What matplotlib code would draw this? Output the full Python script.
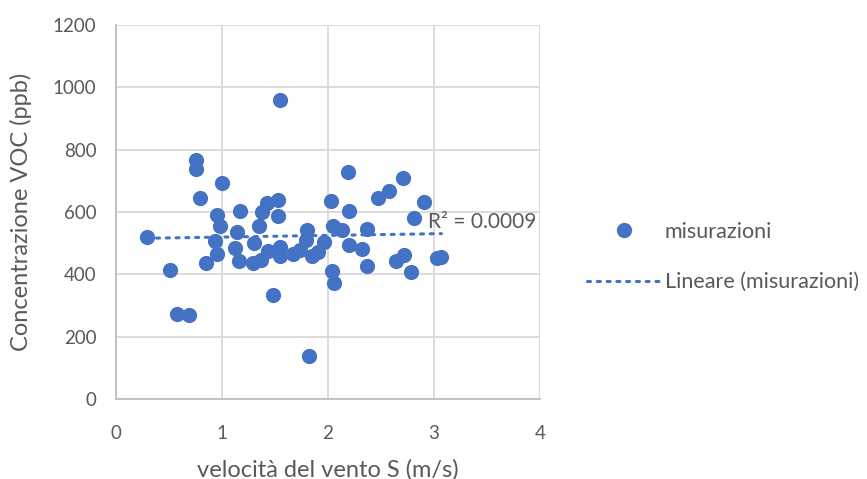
import numpy as np
import matplotlib.pyplot as plt
from matplotlib.lines import Line2D

# ===============================
# data
# ===============================
velocita = [0.29, 0.51, 0.58, 0.69, 0.75, 0.75, 0.79, 0.85, 0.93, 0.95,
            0.95, 0.98, 1.00, 1.12, 1.14, 1.16, 1.17, 1.29, 1.30, 1.35,
            1.38, 1.37, 1.42, 1.43, 1.48, 1.53, 1.53, 1.55, 1.55, 1.55,
            1.67, 1.74, 1.80, 1.79, 1.82, 1.85, 1.91, 1.96, 2.03, 2.05,
            2.04, 2.06, 2.13, 2.19, 2.20, 2.20, 2.32, 2.37, 2.37, 2.47,
            2.58, 2.64, 2.72, 2.71, 2.78, 2.81, 2.91, 3.03, 3.07]
voc = [520, 415, 272, 270, 767, 737, 646, 437, 507, 590,
       464, 555, 692, 485, 535, 443, 603, 437, 501, 556,
       601, 446, 628, 476, 334, 638, 587, 960, 489, 460,
       466, 478, 542, 510, 138, 459, 473, 505, 636, 556,
       410, 371, 542, 727, 604, 494, 482, 545, 427, 644,
       668, 443, 463, 708, 407, 582, 633, 451, 455]
r2_label = "R² = 0.0009"
x_ticks = [0, 1, 2, 3, 4]
y_ticks = [0, 200, 400, 600, 800, 1000, 1200]

BLUE = "#4472C4"
GREY_TXT = "#595959"

plt.rcParams['font.family'] = ['Lato', 'DejaVu Sans']

# ===============================
# figure
# ===============================
fig = plt.figure(figsize=(8.67, 4.79), dpi=100)
ax = fig.add_axes([116/867, 1 - 399/479, (540 - 116)/867, (399 - 25)/479])

ax.scatter(velocita, voc, s=120, color=BLUE, zorder=3, linewidths=0)

# linear trend line
x = np.array(velocita)
y = np.array(voc)
k, b = np.polyfit(x, y, 1)
xs = np.array([x.min(), x.max()])
ax.plot(xs, k * xs + b, color=BLUE, linestyle=(0, (1, 2.2)), linewidth=2.2,
        dash_capstyle='round', zorder=2)
ax.text(2.94, 568, r2_label, fontsize=15, color=GREY_TXT, va='center', ha='left')

ax.set_xlim(0, 4)
ax.set_ylim(0, 1200)
ax.set_xticks(x_ticks)
ax.set_yticks(y_ticks)
ax.grid(True, color="#D9D9D9", linewidth=1.3)
ax.set_axisbelow(True)
for s in ['top', 'right']:
    ax.spines[s].set_visible(False)
for s in ['left', 'bottom']:
    ax.spines[s].set_color("#BFBFBF")
    ax.spines[s].set_linewidth(1.3)
ax.tick_params(length=0, labelsize=13.5, labelcolor=GREY_TXT)
ax.tick_params(axis='x', pad=19)
ax.tick_params(axis='y', pad=14)

ax.set_xlabel("velocità del vento S (m/s)", fontsize=17, color=GREY_TXT, labelpad=12)
ax.set_ylabel("Concentrazione VOC (ppb)", fontsize=17, color=GREY_TXT, labelpad=15)

# legend
handles = [
    Line2D([], [], marker='o', linestyle='none', markersize=11,
           markerfacecolor=BLUE, markeredgewidth=0),
    Line2D([], [], color=BLUE, linestyle=(0, (1, 2.2)), linewidth=2.2,
           dash_capstyle='round'),
]
fig.legend(handles, ["misurazioni", "Lineare (misurazioni)"],
           loc='center left', bbox_to_anchor=(568/867, 1 - 257/479),
           frameon=False, fontsize=15.5, labelcolor=GREY_TXT,
           handlelength=3.4, handletextpad=0.2, labelspacing=1.4)

fig.savefig("out.png", dpi=100)
